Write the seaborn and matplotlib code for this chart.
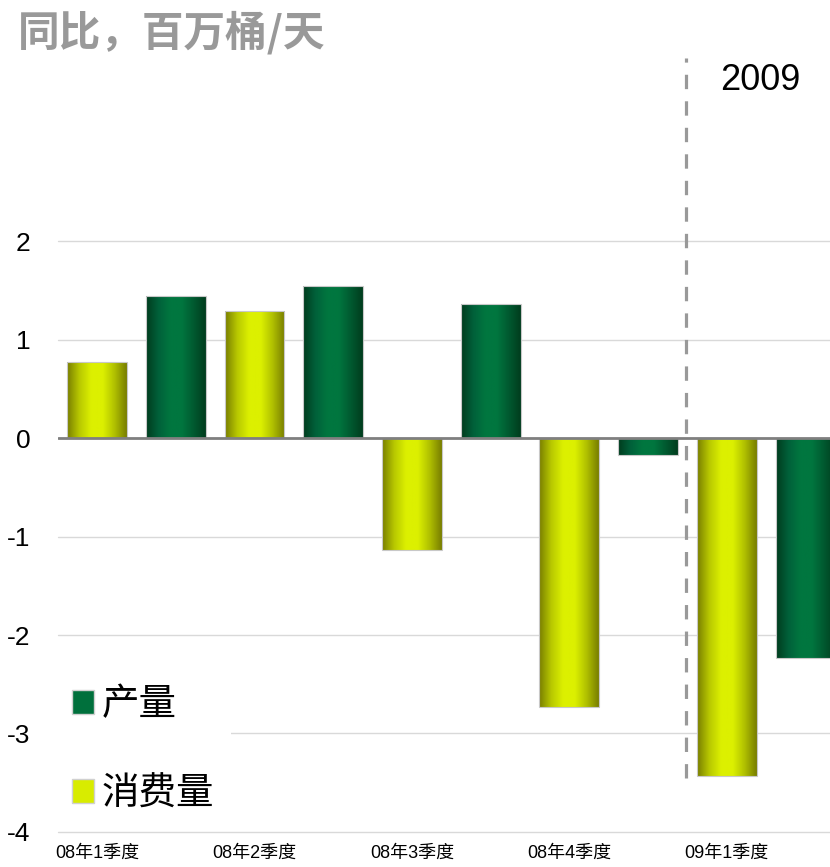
import numpy as np
import pandas as pd
import matplotlib
matplotlib.use('Agg')
import matplotlib.pyplot as plt
import seaborn as sns
from matplotlib.colors import LinearSegmentedColormap
from matplotlib.patches import Patch

# data (million barrels/day, year on year)
quarters = ['08年1季度', '08年2季度', '08年3季度', '08年4季度', '09年1季度']
consumption = [0.77, 1.29, -1.14, -2.73, -3.43]
production = [1.44, 1.54, 1.36, -0.17, -2.23]
series_names = ['消费量', '产量']
legend_order = ['产量', '消费量']
y_ticks = [-4, -3, -2, -1, 0, 1, 2]

df = pd.DataFrame({
    'quarter': quarters * 2,
    'series': ['消费量'] * len(quarters) + ['产量'] * len(quarters),
    'value': consumption + production,
})

yellow = '#d8ec00'
green = '#00703c'
palette = {'消费量': yellow, '产量': green}
cmaps = {
    '消费量': LinearSegmentedColormap.from_list(
        'y', ['#7a8000', '#b8c800', '#dcf000', '#dcf000', '#b0c000', '#7a8000']),
    '产量': LinearSegmentedColormap.from_list(
        'g', ['#003d1e', '#00603a', '#00763f', '#00763f', '#005a30', '#003d1e']),
}

sns.set_style('white')
plt.rcParams['font.family'] = ['Liberation Sans', 'Noto Sans CJK SC', 'DejaVu Sans']
plt.rcParams['text.color'] = 'black'

fig = plt.figure(figsize=(8.3, 8.67), dpi=100)
ax = fig.add_axes([0.07, 0.0404, 0.93, 0.903])

sns.barplot(data=df, x='quarter', y='value', hue='series', hue_order=series_names,
            order=quarters, palette=palette, width=1.0, gap=0.24, ax=ax,
            edgecolor='#c8c8c8', linewidth=0.8, legend=False)

# cylinder-like shading on every bar
grad = np.linspace(0, 1, 64).reshape(1, -1)
for name, cont in zip(series_names, ax.containers):
    for bar in cont:
        x0 = bar.get_x()
        x1 = x0 + bar.get_width()
        y0 = bar.get_y()
        y1 = y0 + bar.get_height()
        bar.set_facecolor('none')
        bar.set_zorder(3)
        im = ax.imshow(grad, extent=[x0, x1, min(y0, y1), max(y0, y1)],
                       aspect='auto', cmap=cmaps[name], zorder=2.5)
        im.set_clip_path(bar)

ax.set_xlim(-0.497, 4.405)
ax.set_ylim(-4, 3.95)
ax.set_yticks(y_ticks)
ax.set_yticklabels([str(t) for t in y_ticks], fontsize=19)
ax.set_xticks([i - 0.25 for i in range(len(quarters))])
ax.set_xticklabels(quarters, fontsize=13)
ax.tick_params(axis='both', length=0, labelcolor='black')
ax.tick_params(axis='x', pad=9)
ax.tick_params(axis='y', pad=20)
ax.set_xlabel('')
ax.set_ylabel('')
for s in ax.spines.values():
    s.set_visible(False)

for t in y_ticks:
    if t != 0:
        # bottom line stays visible over the legend box
        ax.axhline(t, color='#d9d9d9', linewidth=1.0, zorder=6 if t == y_ticks[0] else 1,
                   clip_on=False)
ax.axhline(0, color='#7f7f7f', linewidth=2.0, zorder=4)

# 2009 divider
ax.vlines(3.49, -3.45, 3.86, colors='#999999', linewidth=2.3,
          linestyles=(0, (4.5, 3.8)), zorder=4)
ax.text(3.96, 3.63, '2009', fontsize=26, ha='center', va='center', color='black')

fig.text(0.021, 0.962, '同比，百万桶/天', fontsize=30, fontweight='bold',
         color='#999999', ha='left', va='center', family=['Noto Sans CJK SC'])

handles = [Patch(facecolor=palette[n], edgecolor='#d0d0d0', linewidth=1.0) for n in legend_order]
leg = ax.legend(handles, legend_order, loc='upper left',
                bbox_to_anchor=(55 / 830, 1 - 668 / 867), bbox_transform=fig.transFigure,
                prop={'family': ['Noto Sans CJK SC'], 'size': 27},
                frameon=True, facecolor='white', edgecolor='none', framealpha=1,
                handlelength=0.6, handleheight=0.6, handletextpad=0.2,
                labelspacing=1.35, borderpad=0.45, borderaxespad=0, fancybox=False,
                labelcolor='black')
leg.set_zorder(5)

fig.savefig('out.png', dpi=100, facecolor='white')
